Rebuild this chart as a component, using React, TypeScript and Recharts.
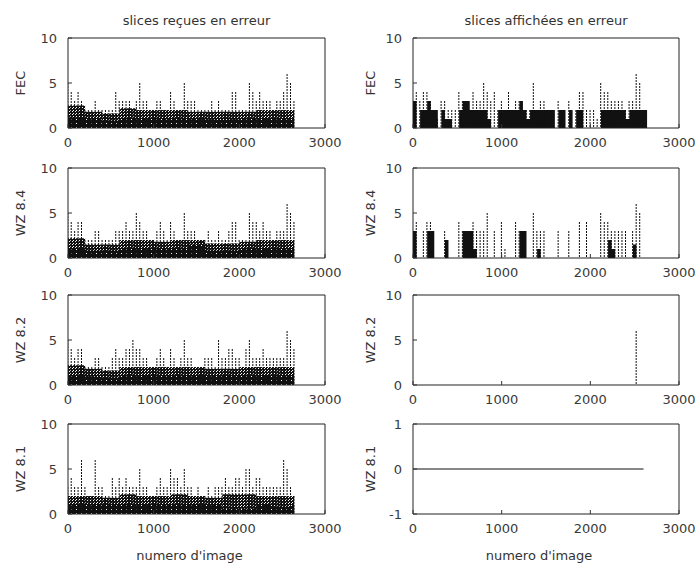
import { Area, Bar, ComposedChart, Line, ReferenceArea, XAxis, YAxis } from 'recharts';

// frame numbers sampled every 40 images
const FRAMES = [
  0, 40, 80, 120, 160, 200, 240, 280, 320, 360, 400, 440, 480, 520, 560, 600, 640, 680, 720, 760,
  800, 840, 880, 920, 960, 1000, 1040, 1080, 1120, 1160, 1200, 1240, 1280, 1320, 1360, 1400, 1440,
  1480, 1520, 1560, 1600, 1640, 1680, 1720, 1760, 1800, 1840, 1880, 1920, 1960, 2000, 2040, 2080,
  2120, 2160, 2200, 2240, 2280, 2320, 2360, 2400, 2440, 2480, 2520, 2560, 2600, 2640,
];
const X_TICKS = [0, 1000, 2000, 3000];
const Y_TICKS = [0, 5, 10];
const Y_TICKS_UNIT = [-1, 0, 1];

// slices reçues en erreur: max per 40-frame bin, plus dense levels per 200 frames
const FEC_RECUES_PEAK = [5,4,3,4,3,2,2,2,3,2, 2,2,2,2,4,3,3,3,3,2, 3,5,3,3,2,2,3,3,2,2, 4,3,2,2,5,3,3,3,2,2, 2,2,3,2,3,2,2,2,4,4, 2,2,2,5,4,3,4,3,3,3, 2,3,3,4,6,5,3];
const FEC_RECUES_LOW = [1.2, 1, 0.8, 1, 1, 1, 1, 1, 0.9, 0.9, 1, 1, 1, 1];
const FEC_RECUES_MID = [2.5, 1.8, 1.6, 2.2, 2, 2, 2, 1.8, 1.8, 1.8, 1.8, 2, 2, 2];

const WZ84_RECUES_PEAK = [5,4,3,4,4,2,2,2,3,3, 2,2,2,2,3,3,3,4,3,3, 5,4,3,3,2,2,3,4,3,2, 4,3,2,2,5,3,3,3,2,2, 2,3,2,2,3,2,2,3,4,4, 2,2,2,5,4,4,3,4,3,3, 2,3,3,3,6,5,4];
const WZ84_RECUES_LOW = [1, 0.8, 0.8, 1, 1, 1, 1, 1.5, 0.8, 0.8, 1, 1, 1, 1];
const WZ84_RECUES_MID = [2.2, 1.5, 1.5, 2, 2, 1.8, 2, 2, 1.6, 1.6, 1.8, 2, 2, 2];

const WZ82_RECUES_PEAK = [5,4,3,4,4,2,2,2,3,3, 2,2,2,3,4,3,3,4,4,5, 4,4,3,3,2,2,3,4,3,2, 4,3,2,3,5,3,3,2,2,2, 3,3,3,2,5,3,3,4,4,3, 3,2,4,5,3,3,3,4,3,3, 3,3,3,3,6,5,4];
const WZ82_RECUES_LOW = [1, 0.9, 0.8, 1, 1, 1, 1, 1, 1, 1, 1, 1, 1, 1];
const WZ82_RECUES_MID = [2.2, 1.8, 1.6, 2, 2, 2, 2, 2, 1.8, 1.8, 2, 2, 2, 2];

const WZ81_RECUES_PEAK = [3,4,3,3,6,3,2,2,6,3, 3,2,2,4,3,4,3,4,3,3, 3,5,3,3,2,2,3,4,3,3, 5,4,4,3,5,3,3,2,3,2, 2,3,2,3,3,3,4,3,3,4, 4,3,5,5,3,4,4,3,3,3, 3,3,3,6,5,3,2];
const WZ81_RECUES_LOW = [1, 1, 1, 1, 1, 1, 1, 1, 1, 0.6, 0.6, 1, 0.8, 1];
const WZ81_RECUES_MID = [2, 2, 1.8, 2.2, 2, 2, 2.2, 2, 1.8, 2.2, 2.2, 2, 2, 2];

// slices affichées en erreur
const FEC_AFF_BLOCK = [3,0,2,2,3,2,2,0,2,1, 1,0,0,2,3,3,2,2,2,2, 2,1,0,0,2,2,2,2,2,2, 3,2,1,2,2,2,2,2,2,2, 0,2,2,0,2,0,2,2,0,0, 0,0,0,2,2,2,2,2,2,2, 1,2,2,2,2,2,0];
const FEC_AFF_PEAK = [3,4,3,4,4,3,2,1,3,3, 2,2,2,4,3,3,2,4,3,3, 5,4,3,4,2,3,2,4,2,3, 3,2,2,2,5,2,3,3,2,2, 0,3,2,0,3,0,2,4,4,2, 2,2,1,5,4,4,3,3,3,3, 2,3,3,6,5,2,0];

const WZ84_AFF_BLOCK = [3,0,0,0,3,3,0,0,0,2, 0,0,0,0,3,3,3,1,0,0, 0,0,0,0,0,0,0,0,0,0, 3,3,0,0,0,1,0,0,0,0, 0,0,0,0,0,0,0,0,0,0, 0,0,0,0,0,2,1,0,0,0, 0,0,1.5,0,0,0,0];
const WZ84_AFF_PEAK = [3,4,0,3,4,4,0,0,0,3, 0,0,0,4,3,3,3,4,3,3, 3,5,0,3,0,4,1,0,0,4, 3,3,0,0,5,3,3,3,0,0, 0,3,0,0,3,0,0,4,0,4, 0,0,0,5,4,4,3,3,3,3, 3,0,3,6,5,0,0];

const WZ82_AFF_SPIKE_FRAMES = [2520];
const WZ82_AFF_SPIKE_VALUES = [6];

const WZ81_AFF_LEVEL = 0;
const WZ81_AFF_LAST_FRAME = 2600;

type Row = {
  f: number;
  peak?: number;
  low?: number;
  mid?: number;
  block?: number;
  flat?: number | null;
};

function denseRows(peak: number[], low: number[], mid: number[]): Row[] {
  return FRAMES.map((f, i) => ({
    f,
    peak: peak[i],
    low: low[Math.floor(i / 5)],
    mid: mid[Math.floor(i / 5)],
  }));
}

function stemRows(peak: number[], block: number[]): Row[] {
  return FRAMES.map((f, i) => ({ f, peak: peak[i], block: block[i] }));
}

function spikeRows(frames: number[], values: number[]): Row[] {
  return FRAMES.map((f) => {
    const k = frames.indexOf(f);
    return { f, peak: k >= 0 ? values[k] : 0 };
  });
}

function flatRows(level: number, last: number): Row[] {
  return FRAMES.map((f) => ({ f, flat: f <= last ? level : null }));
}

const FONT = "'DejaVu Sans', sans-serif";
const TICK_STYLE = { fontSize: 13, fill: '#3a3a3a', fontFamily: FONT };
const INK = '#111';

function Stem(props: any) {
  const { x, y, width, height } = props;
  if (!height || height <= 0) return null;
  const cx = x + width / 2;
  return (
    <line x1={cx} x2={cx} y1={y} y2={y + height} stroke={INK} strokeWidth={1} strokeDasharray="2 1" />
  );
}

type PanelProps = {
  id: string;
  boxLeft: number;
  boxTop: number;
  boxWidth: number;
  boxHeight: number;
  rows: Row[];
  yDomain: [number, number];
  yTicks: number[];
  dense?: boolean;
  blocks?: boolean;
  flat?: boolean;
};

function Panel({ id, boxLeft, boxTop, boxWidth, boxHeight, rows, yDomain, yTicks, dense, blocks, flat }: PanelProps) {
  const axisW = 60;
  const top = 12;
  const right = 20;
  const xAxisH = 26;
  return (
    <div style={{ position: 'absolute', left: boxLeft - axisW, top: boxTop - top }}>
      <ComposedChart
        width={boxWidth + axisW + right}
        height={boxHeight + top + xAxisH}
        data={rows}
        margin={{ top, right, bottom: 0, left: 0 }}
      >
        <defs>
          <pattern id={`mottle-${id}`} width="3" height="3" patternUnits="userSpaceOnUse">
            <rect width="3" height="3" fill={INK} />
            <rect x="1" y="1" width="1" height="1" fill="#fff" />
            <rect x="2" y="0" width="1" height="1" fill="#fff" />
          </pattern>
          <pattern id={`speckle-${id}`} width="5" height="4" patternUnits="userSpaceOnUse">
            <rect width="5" height="4" fill={INK} />
            <rect x="3" y="1" width="1" height="1" fill="#fff" />
          </pattern>
        </defs>
        <XAxis
          type="number"
          dataKey="f"
          domain={[0, 3000]}
          ticks={X_TICKS}
          interval={0}
          allowDataOverflow
          height={xAxisH}
          axisLine={false}
          tickSize={-4}
          tickMargin={14}
          tickLine={{ stroke: '#333' }}
          tick={TICK_STYLE}
        />
        <YAxis
          type="number"
          domain={yDomain}
          ticks={yTicks}
          interval={0}
          allowDataOverflow
          width={axisW}
          axisLine={false}
          tickSize={-4}
          tickMargin={15}
          tickLine={{ stroke: '#333' }}
          tick={TICK_STYLE}
        />
        {dense && (
          <Area
            type="stepAfter"
            dataKey="mid"
            stroke="none"
            fill={`url(#mottle-${id})`}
            fillOpacity={1}
            isAnimationActive={false}
          />
        )}
        {dense && (
          <Area
            type="stepAfter"
            dataKey="low"
            stroke="none"
            fill={`url(#speckle-${id})`}
            fillOpacity={1}
            isAnimationActive={false}
          />
        )}
        {blocks && (
          <Area type="stepAfter" dataKey="block" stroke="none" fill={INK} fillOpacity={1} isAnimationActive={false} />
        )}
        {!flat && <Bar dataKey="peak" barSize={1} shape={Stem} isAnimationActive={false} />}
        {flat && (
          <Line dataKey="flat" stroke={INK} strokeWidth={1.2} dot={false} isAnimationActive={false} />
        )}
        <ReferenceArea
          x1={0}
          x2={3000}
          y1={yDomain[0]}
          y2={yDomain[1]}
          fill="none"
          stroke="#222"
          strokeWidth={1}
          ifOverflow="visible"
        />
      </ComposedChart>
    </div>
  );
}

const LEFT = { left: 68, width: 257 };
const RIGHT = { left: 413, width: 266 };
const ROW_TOPS = [38, 168, 295, 424];
const BOX_H = 90;
const Y_LABELS = ['FEC', 'WZ 8.4', 'WZ 8.2', 'WZ 8.1'];

const textBase: React.CSSProperties = {
  position: 'absolute',
  fontFamily: FONT,
  fontSize: 13,
  color: '#333',
  whiteSpace: 'nowrap',
};

function YLabel({ text, cx, cy }: { text: string; cx: number; cy: number }) {
  return (
    <div
      style={{
        ...textBase,
        left: cx,
        top: cy,
        transform: 'translate(-50%, -50%) rotate(-90deg)',
      }}
    >
      {text}
    </div>
  );
}

function CenterText({ text, cx, cy }: { text: string; cx: number; cy: number }) {
  return (
    <div style={{ ...textBase, left: cx, top: cy, transform: 'translate(-50%, -50%)' }}>{text}</div>
  );
}

export default function App() {
  const leftRows = [
    denseRows(FEC_RECUES_PEAK, FEC_RECUES_LOW, FEC_RECUES_MID),
    denseRows(WZ84_RECUES_PEAK, WZ84_RECUES_LOW, WZ84_RECUES_MID),
    denseRows(WZ82_RECUES_PEAK, WZ82_RECUES_LOW, WZ82_RECUES_MID),
    denseRows(WZ81_RECUES_PEAK, WZ81_RECUES_LOW, WZ81_RECUES_MID),
  ];
  const rightRows = [
    stemRows(FEC_AFF_PEAK, FEC_AFF_BLOCK),
    stemRows(WZ84_AFF_PEAK, WZ84_AFF_BLOCK),
    spikeRows(WZ82_AFF_SPIKE_FRAMES, WZ82_AFF_SPIKE_VALUES),
    flatRows(WZ81_AFF_LEVEL, WZ81_AFF_LAST_FRAME),
  ];

  return (
    <div
      style={{
        position: 'absolute',
        left: 0,
        top: 0,
        width: 700,
        height: 568,
        overflow: 'hidden',
        background: '#fff',
      }}
    >
      <CenterText text="slices reçues en erreur" cx={LEFT.left + LEFT.width / 2} cy={20} />
      <CenterText text="slices affichées en erreur" cx={RIGHT.left + RIGHT.width / 2} cy={20} />

      {ROW_TOPS.map((top, r) => (
        <Panel
          key={`l${r}`}
          id={`l${r}`}
          boxLeft={LEFT.left}
          boxTop={top}
          boxWidth={LEFT.width}
          boxHeight={BOX_H}
          rows={leftRows[r]}
          yDomain={[0, 10]}
          yTicks={Y_TICKS}
          dense
        />
      ))}
      {ROW_TOPS.map((top, r) => (
        <Panel
          key={`r${r}`}
          id={`r${r}`}
          boxLeft={RIGHT.left}
          boxTop={top}
          boxWidth={RIGHT.width}
          boxHeight={BOX_H}
          rows={rightRows[r]}
          yDomain={r === 3 ? [-1, 1] : [0, 10]}
          yTicks={r === 3 ? Y_TICKS_UNIT : Y_TICKS}
          blocks={r < 2}
          flat={r === 3}
        />
      ))}

      {ROW_TOPS.map((top, r) => (
        <YLabel key={`yl${r}`} text={Y_LABELS[r]} cx={20} cy={top + BOX_H / 2} />
      ))}
      {ROW_TOPS.map((top, r) => (
        <YLabel key={`yr${r}`} text={Y_LABELS[r]} cx={370} cy={top + BOX_H / 2} />
      ))}

      <CenterText text="numero d'image" cx={LEFT.left + LEFT.width / 2 - 7} cy={555} />
      <CenterText text="numero d'image" cx={RIGHT.left + RIGHT.width / 2 - 7} cy={555} />
    </div>
  );
}
